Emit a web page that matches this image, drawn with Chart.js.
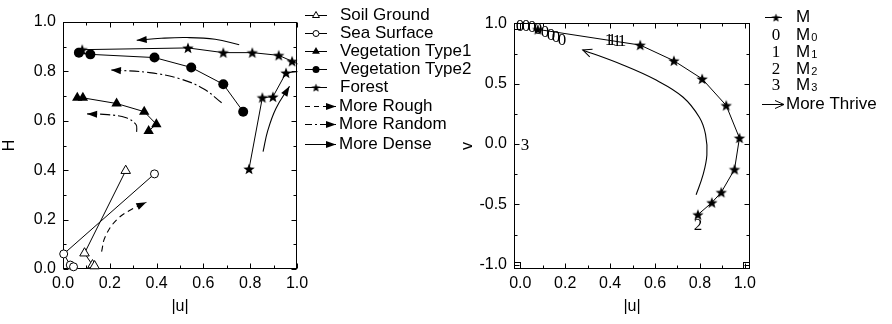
<!DOCTYPE html>
<html>
<head>
<meta charset="utf-8">
<title>H and v against |u|</title>
<script src="https://cdn.jsdelivr.net/npm/chart.js@4.4.1/dist/chart.umd.min.js"></script>
<style>
  html, body { margin: 0; padding: 0; background: #fff; }
  #wrap { position: relative; width: 892px; height: 324px; }
  .panel { position: absolute; top: 0; height: 324px; }
</style>
</head>
<body>
<div id="wrap">
  <div class="panel" style="left:0;width:480px"><canvas id="hChart"></canvas></div>
  <div class="panel" style="left:450px;width:442px"><canvas id="vChart"></canvas></div>
</div>
<script>
// ---- left panel: H against |u| ----
const soilU = [0.268, 0.092, 0.126, 0.135];
const soilH = [0.398, 0.064, 0.016, 0.012];
const seaU = [0.391, 0.003, 0.031, 0.045];
const seaH = [0.385, 0.061, 0.016, 0.009];
const veg1U = [0.061, 0.085, 0.229, 0.347, 0.399, 0.366];
const veg1H = [0.693, 0.693, 0.670, 0.637, 0.586, 0.559];
const veg2U = [0.068, 0.117, 0.391, 0.548, 0.685, 0.770];
const veg2H = [0.876, 0.869, 0.856, 0.816, 0.748, 0.637];
const forestU = [0.795, 0.852, 0.897, 0.953, 1.06, 0.979, 0.922, 0.809, 0.685, 0.534, 0.082];
const forestH = [0.405, 0.694, 0.697, 0.794, 0.805, 0.841, 0.865, 0.876, 0.876, 0.895, 0.888];

// trend arrows (left panel)
const roughU = [0.165, 0.18, 0.23, 0.30, 0.356];
const roughH = [0.07, 0.13, 0.20, 0.245, 0.27];
const random1U = [0.678, 0.60, 0.50, 0.37, 0.205];
const random1H = [0.673, 0.73, 0.77, 0.795, 0.806];
const random2U = [0.315, 0.312, 0.27, 0.19, 0.103];
const random2H = [0.555, 0.585, 0.612, 0.625, 0.628];
const dense1U = [0.753, 0.65, 0.53, 0.42, 0.315];
const dense1H = [0.908, 0.93, 0.937, 0.934, 0.926];
const dense2U = [0.855, 0.875, 0.91, 0.968];
const dense2H = [0.475, 0.56, 0.65, 0.74];

// ---- right panel: v against |u| ----
const mU = [0.078, 0.534, 0.684, 0.810, 0.917, 0.976, 0.954, 0.895, 0.853, 0.791];
const mV = [0.95, 0.82, 0.69, 0.54, 0.32, 0.05, -0.21, -0.40, -0.485, -0.585];
const m0U = [0.0, 0.025, 0.05, 0.08, 0.11, 0.135, 0.16, 0.185];
const m0V = [0.975, 0.975, 0.97, 0.955, 0.93, 0.905, 0.885, 0.86];
const m1U = [0.395, 0.41, 0.43, 0.455];
const m1V = [0.865, 0.862, 0.858, 0.852];
const m2U = [0.79];
const m2V = [-0.67];
const m3U = [0.02];
const m3V = [-0.01];
const thriveU = [0.783, 0.813, 0.831, 0.825, 0.798, 0.724, 0.605, 0.457, 0.278];
const thriveV = [-0.42, -0.26, -0.09, 0.08, 0.22, 0.39, 0.53, 0.655, 0.78];

// tick labels
const hTicks = [0, 0.2, 0.4, 0.6, 0.8, 1.0];
const uTicks = [0, 0.2, 0.4, 0.6, 0.8, 1.0];
const vTicks = [-1.0, -0.5, 0, 0.5, 1.0];

const SANS = '"Liberation Sans", Arial, Helvetica, sans-serif';
const SERIF = '"Liberation Serif", "Times New Roman", serif';
const tickFont = { family: SANS, size: 16 };
const LEGEND_FONT = '17px ' + SANS;
const DIGIT_FONT = '17px ' + SERIF;

Chart.defaults.font.family = SANS;
Chart.defaults.color = '#000';

const pts = (xs, ys) => xs.map((x, i) => ({ x, y: ys[i] }));

// ---- star marker image ----
function starImg(r) {
  const s = Math.ceil(r * 2 + 2);
  const c = document.createElement('canvas');
  c.width = s; c.height = s;
  const g = c.getContext('2d');
  g.translate(s / 2, s / 2 + 0.5);
  g.beginPath();
  for (let i = 0; i < 10; i++) {
    const rad = i % 2 ? r * 0.42 : r;
    const a = -Math.PI / 2 + i * Math.PI / 5;
    g.lineTo(Math.cos(a) * rad, Math.sin(a) * rad);
  }
  g.closePath();
  g.fillStyle = '#000';
  g.fill();
  return c;
}

const starBig = starImg(6);
const starSmall = starImg(4.5);

// ---- arrow heads ----
function drawHead(ctx, x, y, ang, kind) {
  ctx.save();
  ctx.translate(x, y);
  ctx.rotate(ang);
  ctx.fillStyle = '#000';
  ctx.strokeStyle = '#000';
  ctx.setLineDash([]);
  if (kind === 'open') {
    ctx.lineWidth = 1;
    ctx.beginPath();
    ctx.moveTo(-9, -4); ctx.lineTo(0, 0); ctx.lineTo(-9, 4);
    ctx.stroke();
  } else {
    ctx.beginPath();
    ctx.moveTo(0, 0); ctx.lineTo(-10, -3.6); ctx.lineTo(-10, 3.6);
    ctx.closePath();
    ctx.fill();
  }
  ctx.restore();
}

const arrowHeads = {
  id: 'arrowHeads',
  afterDatasetsDraw(chart) {
    const ctx = chart.ctx;
    chart.data.datasets.forEach((ds, i) => {
      if (!ds.arrow) return;
      const els = chart.getDatasetMeta(i).data;
      const p = els[els.length - 1];
      const q = els[els.length - 2];
      drawHead(ctx, p.x, p.y, Math.atan2(p.y - q.y, p.x - q.x), ds.arrow);
    });
  }
};

// digit markers (M0..M3) written as text at each point
const digitMarks = {
  id: 'digitMarks',
  afterDatasetsDraw(chart) {
    const ctx = chart.ctx;
    ctx.save();
    ctx.font = DIGIT_FONT;
    ctx.textAlign = 'center';
    ctx.textBaseline = 'middle';
    ctx.fillStyle = '#000';
    chart.data.datasets.forEach((ds, i) => {
      if (!ds.digit) return;
      chart.getDatasetMeta(i).data.forEach(el => {
        ctx.fillText(ds.digit, Math.round(el.x), Math.round(el.y) + 1);
      });
    });
    ctx.restore();
  }
};

// ---- frame with inward ticks on all four sides ----
const frame = {
  id: 'frame',
  beforeDatasetsDraw(chart, args, o) {
    const { ctx, chartArea: a, scales: { x, y } } = chart;
    const L = Math.round(a.left) + 0.5, R = Math.round(a.right) - 0.5;
    const T = Math.round(a.top) + 0.5, B = Math.round(a.bottom) - 0.5;
    ctx.save();
    ctx.strokeStyle = '#000';
    ctx.lineWidth = 1;
    ctx.strokeRect(L, T, R - L, B - T);
    ctx.beginPath();
    const k0 = Math.ceil(x.min / o.xMinor - 1e-6), k1 = Math.floor(x.max / o.xMinor + 1e-6);
    for (let k = k0; k <= k1; k++) {
      const v = k * o.xMinor;
      const len = Math.abs(v / o.xMajor - Math.round(v / o.xMajor)) < 1e-6 ? 5 : 3;
      const px = Math.round(x.getPixelForValue(v)) + 0.5;
      ctx.moveTo(px, B); ctx.lineTo(px, B - len);
      ctx.moveTo(px, T); ctx.lineTo(px, T + len);
    }
    const j0 = Math.ceil(y.min / o.yMinor - 1e-6), j1 = Math.floor(y.max / o.yMinor + 1e-6);
    for (let k = j0; k <= j1; k++) {
      const v = k * o.yMinor;
      const len = Math.abs(v / o.yMajor - Math.round(v / o.yMajor)) < 1e-6 ? 5 : 3;
      const py = Math.round(y.getPixelForValue(v)) + 0.5;
      ctx.moveTo(L, py); ctx.lineTo(L + len, py);
      ctx.moveTo(R, py); ctx.lineTo(R - len, py);
    }
    ctx.stroke();
    if (o.corners) {
      // little origin squares at the box corners
      ctx.strokeRect(L, B - 6, 6, 6);
      ctx.strokeRect(R - 6, B - 6, 6, 6);
      ctx.strokeRect(L, T, 6, 6);
    }
    ctx.restore();
  }
};

// ---- legend drawn beside each panel ----
const sideLegend = {
  id: 'sideLegend',
  afterDraw(chart, args, o) {
    const ctx = chart.ctx;
    ctx.save();
    ctx.textBaseline = 'middle';
    ctx.strokeStyle = '#000';
    o.items.forEach(it => {
      const y = it.y;
      if (it.x1) {
        ctx.lineWidth = 1;
        ctx.setLineDash(it.dash || []);
        ctx.beginPath();
        ctx.moveTo(it.x0, y + 0.5); ctx.lineTo(it.x1, y + 0.5);
        ctx.stroke();
        ctx.setLineDash([]);
        if (it.head) drawHead(ctx, it.x1, y + 0.5, 0, it.head);
      }
      if (it.marker) {
        ctx.fillStyle = it.open ? '#fff' : '#000';
        ctx.strokeStyle = '#000';
        ctx.lineWidth = 1;
        Chart.helpers.drawPoint(ctx, { pointStyle: it.marker, radius: it.r || 4, rotation: 0, borderWidth: it.open ? 1 : 0 }, it.mx, y + 0.5);
      }
      ctx.fillStyle = '#000';
      if (it.digit) {
        ctx.font = DIGIT_FONT;
        ctx.textAlign = 'center';
        ctx.fillText(it.digit, it.mx, y + 1);
        ctx.textAlign = 'left';
      }
      ctx.font = LEGEND_FONT;
      ctx.fillText(it.text, it.tx, y);
      if (it.sub) {
        const w = ctx.measureText(it.text).width;
        ctx.font = '11px ' + SANS;
        ctx.fillText(it.sub, it.tx + w + 1, y + 3);
      }
    });
    ctx.restore();
  }
};

function axis(min, max, vals, title, size, titlePad, tickPad) {
  return {
    type: 'linear',
    min, max,
    grid: { display: false, drawTicks: false },
    border: { display: false },
    afterBuildTicks: s => { s.ticks = vals.map(v => ({ value: v })); },
    afterFit: s => { if (s.isHorizontal()) s.height = size; else s.width = size; },
    ticks: { color: '#000', font: tickFont, padding: tickPad, autoSkip: false, maxRotation: 0,
             callback: v => Number(v).toFixed(1) },
    title: { display: true, text: title, color: '#000', font: tickFont, padding: titlePad }
  };
}

function series(label, xs, ys, style, r, extra) {
  return Object.assign({
    label, data: pts(xs, ys), showLine: true,
    borderColor: '#000', borderWidth: 1, backgroundColor: '#000',
    pointStyle: style, pointRadius: r, pointBorderWidth: 0,
    pointBackgroundColor: '#000', pointBorderColor: '#000', tension: 0, clip: false
  }, extra || {});
}

function digitSeries(label, xs, ys, digit) {
  return { label, data: pts(xs, ys), digit, showLine: false, pointRadius: 0, clip: false };
}

function arrowLine(label, xs, ys, dash, head) {
  return {
    label, data: pts(xs, ys), showLine: true, arrow: head,
    borderColor: '#000', borderWidth: 1.1, borderDash: dash,
    pointRadius: 0, tension: 0.4, clip: false, order: 5
  };
}

const openMarker = { pointBackgroundColor: '#fff', pointBorderWidth: 1 };

const baseOptions = {
  responsive: true,
  maintainAspectRatio: false,
  devicePixelRatio: 1,
  animation: false,
  events: [],
};

// ---- left chart ----
new Chart(document.getElementById('hChart'), {
  type: 'scatter',
  data: {
    datasets: [
      series('Soil Ground', soilU, soilH, 'triangle', 5.5, openMarker),
      series('Sea Surface', seaU, seaH, 'circle', 4, openMarker),
      series('Vegetation Type1', veg1U, veg1H, 'triangle', 6),
      series('Vegetation Type2', veg2U, veg2H, 'circle', 5),
      series('Forest', forestU, forestH, starBig, 6, { clip: 0.5 }),
      arrowLine('More Rough', roughU, roughH, [6, 4], 'filled'),
      arrowLine('More Random', random1U, random1H, [10, 3, 2, 3], 'filled'),
      arrowLine('More Random', random2U, random2H, [10, 3, 2, 3], 'filled'),
      arrowLine('More Dense', dense1U, dense1H, [], 'filled'),
      arrowLine('More Dense', dense2U, dense2H, [], 'filled')
    ]
  },
  options: Object.assign({}, baseOptions, {
    layout: { padding: { left: 0, right: 183, top: 22, bottom: 0 } },
    scales: {
      x: axis(0, 1.0, uTicks, '|u|', 55, { top: 0, bottom: 8 }, 5),
      y: axis(0, 1.0, hTicks, 'H', 63, { top: 0, bottom: 0 }, 7)
    },
    plugins: {
      legend: { display: false },
      tooltip: { enabled: false },
      frame: { xMinor: 0.1, xMajor: 0.2, yMinor: 0.1, yMajor: 0.2, corners: false },
      sideLegend: {
        items: [
          { text: 'Soil Ground', y: 15, x0: 305, x1: 327, marker: 'triangle', open: true, r: 4, mx: 316, tx: 340 },
          { text: 'Sea Surface', y: 33, x0: 305, x1: 327, marker: 'circle', open: true, r: 3, mx: 316, tx: 340 },
          { text: 'Vegetation Type1', y: 51, x0: 305, x1: 327, marker: 'triangle', r: 4.5, mx: 316, tx: 340 },
          { text: 'Vegetation Type2', y: 69, x0: 305, x1: 327, marker: 'circle', r: 3.5, mx: 316, tx: 340 },
          { text: 'Forest', y: 87, x0: 305, x1: 327, marker: starSmall, mx: 316, tx: 340 },
          { text: 'More Rough', y: 106, x0: 305, x1: 336, dash: [5, 4], head: 'filled', tx: 339 },
          { text: 'More Random', y: 124, x0: 305, x1: 336, dash: [7, 3, 2, 3], head: 'filled', tx: 339 },
          { text: 'More Dense', y: 144, x0: 305, x1: 336, head: 'filled', tx: 339 }
        ]
      }
    }
  }),
  plugins: [frame, arrowHeads, sideLegend]
});

// ---- right chart ----
new Chart(document.getElementById('vChart'), {
  type: 'scatter',
  data: {
    datasets: [
      digitSeries('M0', m0U, m0V, '0'),
      digitSeries('M1', m1U, m1V, '1'),
      digitSeries('M2', m2U, m2V, '2'),
      digitSeries('M3', m3U, m3V, '3'),
      series('M', mU, mV, starBig, 6),
      arrowLine('More Thrive', thriveU, thriveV, [], 'open')
    ]
  },
  options: Object.assign({}, baseOptions, {
    layout: { padding: { left: 0, right: 142, top: 23, bottom: 0 } },
    scales: {
      x: axis(-0.028, 1.023, uTicks, '|u|', 55, { top: 0, bottom: 8 }, 5),
      y: axis(-1.035, 1.003, vTicks, 'v', 64, { top: 8, bottom: 0 }, 7)
    },
    plugins: {
      legend: { display: false },
      tooltip: { enabled: false },
      frame: { xMinor: 0.1, xMajor: 0.2, yMinor: 0.25, yMajor: 0.5, corners: true },
      sideLegend: {
        items: [
          { text: 'M', y: 17, x0: 315, x1: 332, marker: starSmall, mx: 326, tx: 346 },
          { text: 'M', sub: '0', y: 35, digit: '0', mx: 326, tx: 346 },
          { text: 'M', sub: '1', y: 52, digit: '1', mx: 326, tx: 346 },
          { text: 'M', sub: '2', y: 69, digit: '2', mx: 326, tx: 346 },
          { text: 'M', sub: '3', y: 85, digit: '3', mx: 326, tx: 346 },
          { text: 'More Thrive', y: 104, x0: 312, x1: 334, head: 'open', tx: 336 }
        ]
      }
    }
  }),
  plugins: [frame, digitMarks, arrowHeads, sideLegend]
});
</script>
</body>
</html>
